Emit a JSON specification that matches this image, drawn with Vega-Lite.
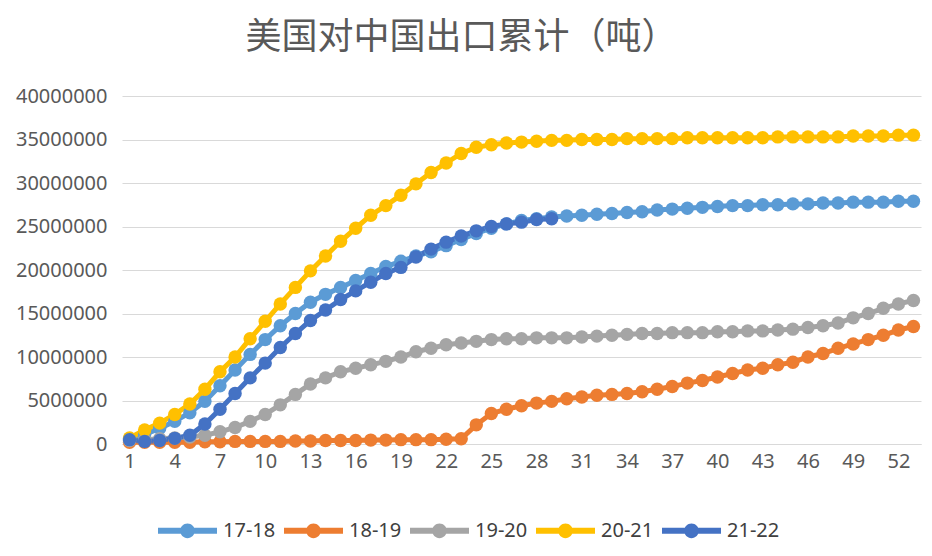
{
  "$schema": "https://vega.github.io/schema/vega-lite/v6.json",
  "description": "美国对中国出口累计（吨）",
  "title": {
    "text": "美国对中国出口累计（吨）",
    "font": "Noto Sans CJK SC",
    "fontSize": 36,
    "fontWeight": "normal",
    "color": "#595959",
    "anchor": "middle",
    "frame": "group",
    "dx": -60,
    "offset": 29
  },
  "autosize": "none",
  "width": 799,
  "height": 348,
  "padding": {"left": 122, "top": 96, "right": 11, "bottom": 112},
  "background": "#ffffff",
  "config": {
    "view": {"stroke": null},
    "font": "Noto Sans"
  },
  "data": {
    "values": [
      {"week": 1, "17-18": 600000, "18-19": 200000, "19-20": 400000, "20-21": 700000, "21-22": 500000},
      {"week": 2, "17-18": 1100000, "18-19": 200000, "19-20": 500000, "20-21": 1600000, "21-22": 300000},
      {"week": 3, "17-18": 1800000, "18-19": 200000, "19-20": 600000, "20-21": 2400000, "21-22": 400000},
      {"week": 4, "17-18": 2600000, "18-19": 200000, "19-20": 700000, "20-21": 3400000, "21-22": 650000},
      {"week": 5, "17-18": 3600000, "18-19": 200000, "19-20": 800000, "20-21": 4600000, "21-22": 1000000},
      {"week": 6, "17-18": 4900000, "18-19": 250000, "19-20": 1000000, "20-21": 6300000, "21-22": 2300000},
      {"week": 7, "17-18": 6700000, "18-19": 250000, "19-20": 1400000, "20-21": 8300000, "21-22": 4000000},
      {"week": 8, "17-18": 8500000, "18-19": 300000, "19-20": 1900000, "20-21": 10000000, "21-22": 5800000},
      {"week": 9, "17-18": 10300000, "18-19": 300000, "19-20": 2600000, "20-21": 12100000, "21-22": 7600000},
      {"week": 10, "17-18": 12000000, "18-19": 300000, "19-20": 3400000, "20-21": 14100000, "21-22": 9300000},
      {"week": 11, "17-18": 13600000, "18-19": 300000, "19-20": 4500000, "20-21": 16100000, "21-22": 11100000},
      {"week": 12, "17-18": 15000000, "18-19": 350000, "19-20": 5700000, "20-21": 18000000, "21-22": 12700000},
      {"week": 13, "17-18": 16300000, "18-19": 350000, "19-20": 6900000, "20-21": 19900000, "21-22": 14200000},
      {"week": 14, "17-18": 17200000, "18-19": 400000, "19-20": 7600000, "20-21": 21600000, "21-22": 15400000},
      {"week": 15, "17-18": 18000000, "18-19": 400000, "19-20": 8300000, "20-21": 23300000, "21-22": 16600000},
      {"week": 16, "17-18": 18800000, "18-19": 400000, "19-20": 8700000, "20-21": 24800000, "21-22": 17600000},
      {"week": 17, "17-18": 19600000, "18-19": 450000, "19-20": 9100000, "20-21": 26300000, "21-22": 18600000},
      {"week": 18, "17-18": 20400000, "18-19": 450000, "19-20": 9500000, "20-21": 27400000, "21-22": 19600000},
      {"week": 19, "17-18": 21000000, "18-19": 500000, "19-20": 10000000, "20-21": 28600000, "21-22": 20300000},
      {"week": 20, "17-18": 21600000, "18-19": 500000, "19-20": 10600000, "20-21": 29900000, "21-22": 21500000},
      {"week": 21, "17-18": 22100000, "18-19": 500000, "19-20": 11000000, "20-21": 31200000, "21-22": 22400000},
      {"week": 22, "17-18": 22800000, "18-19": 550000, "19-20": 11400000, "20-21": 32300000, "21-22": 23200000},
      {"week": 23, "17-18": 23500000, "18-19": 600000, "19-20": 11600000, "20-21": 33400000, "21-22": 23900000},
      {"week": 24, "17-18": 24200000, "18-19": 2200000, "19-20": 11800000, "20-21": 34100000, "21-22": 24500000},
      {"week": 25, "17-18": 24800000, "18-19": 3500000, "19-20": 12000000, "20-21": 34400000, "21-22": 25000000},
      {"week": 26, "17-18": 25300000, "18-19": 4000000, "19-20": 12100000, "20-21": 34600000, "21-22": 25300000},
      {"week": 27, "17-18": 25700000, "18-19": 4400000, "19-20": 12100000, "20-21": 34700000, "21-22": 25500000},
      {"week": 28, "17-18": 25900000, "18-19": 4700000, "19-20": 12200000, "20-21": 34800000, "21-22": 25800000},
      {"week": 29, "17-18": 26100000, "18-19": 4900000, "19-20": 12200000, "20-21": 34900000, "21-22": 25900000},
      {"week": 30, "17-18": 26200000, "18-19": 5200000, "19-20": 12200000, "20-21": 34900000},
      {"week": 31, "17-18": 26300000, "18-19": 5400000, "19-20": 12300000, "20-21": 35000000},
      {"week": 32, "17-18": 26400000, "18-19": 5600000, "19-20": 12400000, "20-21": 35000000},
      {"week": 33, "17-18": 26500000, "18-19": 5700000, "19-20": 12500000, "20-21": 35000000},
      {"week": 34, "17-18": 26600000, "18-19": 5800000, "19-20": 12600000, "20-21": 35100000},
      {"week": 35, "17-18": 26700000, "18-19": 6000000, "19-20": 12700000, "20-21": 35100000},
      {"week": 36, "17-18": 26900000, "18-19": 6300000, "19-20": 12700000, "20-21": 35100000},
      {"week": 37, "17-18": 27000000, "18-19": 6600000, "19-20": 12800000, "20-21": 35100000},
      {"week": 38, "17-18": 27100000, "18-19": 7000000, "19-20": 12800000, "20-21": 35200000},
      {"week": 39, "17-18": 27200000, "18-19": 7300000, "19-20": 12800000, "20-21": 35200000},
      {"week": 40, "17-18": 27300000, "18-19": 7700000, "19-20": 12900000, "20-21": 35200000},
      {"week": 41, "17-18": 27400000, "18-19": 8100000, "19-20": 12900000, "20-21": 35200000},
      {"week": 42, "17-18": 27400000, "18-19": 8500000, "19-20": 13000000, "20-21": 35200000},
      {"week": 43, "17-18": 27500000, "18-19": 8700000, "19-20": 13000000, "20-21": 35200000},
      {"week": 44, "17-18": 27500000, "18-19": 9100000, "19-20": 13100000, "20-21": 35300000},
      {"week": 45, "17-18": 27600000, "18-19": 9400000, "19-20": 13200000, "20-21": 35300000},
      {"week": 46, "17-18": 27600000, "18-19": 10000000, "19-20": 13400000, "20-21": 35300000},
      {"week": 47, "17-18": 27700000, "18-19": 10400000, "19-20": 13600000, "20-21": 35300000},
      {"week": 48, "17-18": 27700000, "18-19": 11000000, "19-20": 13900000, "20-21": 35300000},
      {"week": 49, "17-18": 27800000, "18-19": 11500000, "19-20": 14500000, "20-21": 35400000},
      {"week": 50, "17-18": 27800000, "18-19": 12000000, "19-20": 15000000, "20-21": 35400000},
      {"week": 51, "17-18": 27800000, "18-19": 12500000, "19-20": 15600000, "20-21": 35400000},
      {"week": 52, "17-18": 27900000, "18-19": 13100000, "19-20": 16100000, "20-21": 35500000},
      {"week": 53, "17-18": 27900000, "18-19": 13500000, "19-20": 16500000, "20-21": 35500000}
    ]
  },
  "transform": [
    {"fold": ["17-18", "18-19", "19-20", "20-21", "21-22"], "as": ["series", "tons"]},
    {"filter": "isValid(datum.tons)"}
  ],
  "encoding": {
    "x": {
      "field": "week",
      "type": "quantitative",
      "scale": {"domain": [0.5, 53.5], "nice": false, "zero": false},
      "axis": {
        "title": null,
        "values": [1, 4, 7, 10, 13, 16, 19, 22, 25, 28, 31, 34, 37, 40, 43, 46, 49, 52],
        "grid": false,
        "ticks": false,
        "domainColor": "#d9d9d9",
        "domainWidth": 1,
        "labelFontSize": 20,
        "labelColor": "#595959",
        "labelPadding": 7,
        "labelFlush": false
      }
    },
    "y": {
      "field": "tons",
      "type": "quantitative",
      "scale": {"domain": [0, 40000000], "nice": false},
      "axis": {
        "title": null,
        "values": [0, 5000000, 10000000, 15000000, 20000000, 25000000, 30000000, 35000000, 40000000],
        "format": "d",
        "domain": false,
        "ticks": false,
        "gridColor": "#d9d9d9",
        "gridWidth": 1,
        "labelFontSize": 20,
        "labelColor": "#595959",
        "labelPadding": 15
      }
    },
    "color": {
      "field": "series",
      "type": "nominal",
      "scale": {
        "domain": ["17-18", "18-19", "19-20", "20-21", "21-22"],
        "range": ["#5B9BD5", "#ED7D31", "#A5A5A5", "#FFC000", "#4472C4"]
      },
      "legend": {
        "title": null,
        "orient": "none",
        "direction": "horizontal",
        "legendX": 36,
        "legendY": 405,
        "symbolType": "M-1,-0.1L1,-0.1L1,0.1L-1,0.1Z M-0.25,0A0.25,0.25,0,1,1,0.25,0A0.25,0.25,0,1,1,-0.25,0Z",
        "symbolSize": 3481,
        "symbolStrokeWidth": 0,
        "labelFontSize": 20,
        "labelColor": "#404040",
        "labelOffset": 6,
        "columnPadding": 8,
        "encode": {
          "symbols": {
            "update": {
              "fill": {"scale": "color", "field": "value"},
              "fillOpacity": {"value": 1},
              "strokeWidth": {"value": 0}
            }
          }
        }
      }
    }
  },
  "layer": [
    {"mark": {"type": "line", "strokeWidth": 5}},
    {"mark": {"type": "circle", "size": 180, "opacity": 1}}
  ]
}
